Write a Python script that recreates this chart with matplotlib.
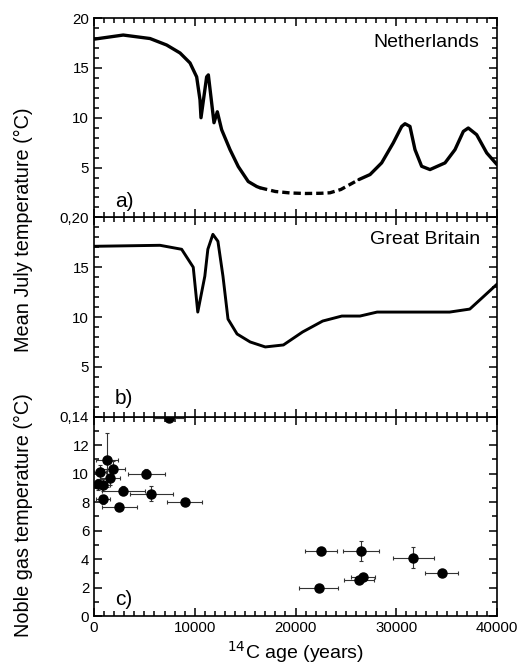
import numpy as np
import matplotlib
matplotlib.use("Agg")
import matplotlib.pyplot as plt
from matplotlib.ticker import MultipleLocator

plt.rcParams['font.family'] = ['Liberation Sans', 'DejaVu Sans']

# a) Netherlands, mean July temperature
nl_age = [0, 100, 2900, 5560, 7210, 8540, 9530, 10190, 10520, 10620, 11180, 11350,
          11910, 12240, 12670, 13500, 14320, 15310, 16150, 16480]
nl_temp = [17.9, 17.9, 18.3, 17.95, 17.3, 16.5, 15.5, 14.1, 11.8, 10.0, 14.1, 14.3,
           9.5, 10.6, 8.8, 6.8, 5.1, 3.6, 3.1, 2.97]
nl_gap_age = [16480, 18000, 19500, 21000, 22500, 23420, 24500, 25400, 26300]
nl_gap_temp = [2.97, 2.6, 2.45, 2.4, 2.42, 2.47, 2.8, 3.3, 3.8]
nl_age2 = [26300, 27400, 28550, 29700, 30540, 30870, 31360, 31860, 32520, 33350,
           34840, 35830, 36660, 37150, 37980, 38980, 40000]
nl_temp2 = [3.8, 4.3, 5.47, 7.47, 9.13, 9.4, 9.13, 6.8, 5.13, 4.8,
            5.47, 6.8, 8.63, 8.97, 8.3, 6.47, 5.3]

# b) Great Britain, mean July temperature
gb_age = [0, 6550, 8700, 9850, 10300, 11000, 11300, 11800, 12300, 12800, 13300,
          14200, 15500, 17000, 18800, 20700, 22700, 24600, 26400, 28100, 35300,
          37300, 38600, 40000]
gb_temp = [17.1, 17.2, 16.8, 15.0, 10.5, 14.1, 16.8, 18.3, 17.6, 14.1, 9.8,
           8.3, 7.5, 7.0, 7.2, 8.5, 9.6, 10.1, 10.1, 10.5, 10.5,
           10.8, 12.0, 13.3]

# c) noble gas temperatures
ng_age = [7450, 1300, 1900, 600, 1600, 400, 900, 5200, 2900, 5700, 9000, 900, 2500,
          22500, 26500, 31700, 34500, 26700, 26300, 22300]
ng_temp = [13.9, 10.95, 10.3, 10.1, 9.7, 9.25, 9.2, 10.0, 8.8, 8.6, 8.0, 8.2, 7.65,
           4.55, 4.55, 4.1, 3.05, 2.75, 2.55, 1.97]
ng_age_err = [1500, 1100, 1200, 600, 1000, 500, 700, 1800, 2150, 2150, 1750, 700, 1750,
              1600, 1750, 2050, 1650, 1200, 1500, 1950]
ng_temp_err = [0.2, 1.9, 0.6, 0.5, 0.5, 0.4, 0.4, 0.3, 0.3, 0.5, 0.2, 0.3, 0.3,
               0.3, 0.7, 0.75, 0.25, 0.2, 0.2, 0.2]

fig = plt.figure(figsize=(5.18, 6.67), dpi=100)
left, width = 94 / 518, 403 / 518
h = 199.3 / 667
bot = 1 - 616 / 667
ax_c = fig.add_axes([left, bot, width, h])
ax_b = fig.add_axes([left, bot + h, width, h], sharex=ax_c)
ax_a = fig.add_axes([left, bot + 2 * h, width, h], sharex=ax_c)

fs = 10.8
for ax in (ax_a, ax_b, ax_c):
    ax.set_xlim(0, 40000)
    ax.xaxis.set_major_locator(MultipleLocator(5000))
    ax.xaxis.set_minor_locator(MultipleLocator(1000))
    ax.tick_params(which='both', direction='in', top=True, right=True, width=1.1)
    ax.tick_params(which='major', length=6)
    ax.tick_params(which='minor', length=3.5)
    ax.tick_params(labelsize=fs)
    for s in ax.spines.values():
        s.set_linewidth(1.2)

ax_a.plot(nl_age, nl_temp, color='black', lw=2.4, solid_joinstyle='round', solid_capstyle='round')
ax_a.plot(nl_gap_age, nl_gap_temp, color='black', lw=2.4, ls=(0, (2.2, 1.2)))
ax_a.plot(nl_age2, nl_temp2, color='black', lw=2.4, solid_joinstyle='round', solid_capstyle='round')
ax_a.set_ylim(0, 20)
ax_a.yaxis.set_minor_locator(MultipleLocator(1))
ax_a.set_yticks([0, 5, 10, 15, 20])
ax_a.set_yticklabels(['0,20', '5', '10', '15', '20'])
ax_a.tick_params(labelbottom=False)
ax_a.text(0.957, 0.88, 'Netherlands', transform=ax_a.transAxes, ha='right', va='center', fontsize=14)
ax_a.text(0.052, 0.05, 'a)', transform=ax_a.transAxes, ha='left', va='baseline', fontsize=15)

ax_b.plot(gb_age, gb_temp, color='black', lw=2.1, solid_joinstyle='round')
ax_b.set_ylim(0, 20)
ax_b.yaxis.set_minor_locator(MultipleLocator(1))
ax_b.set_yticks([0, 5, 10, 15, 20])
ax_b.set_yticklabels(['0,14', '5', '10', '15', ''])
ax_b.tick_params(labelbottom=False)
ax_b.text(0.957, 0.89, 'Great Britain', transform=ax_b.transAxes, ha='right', va='center', fontsize=14)
ax_b.text(0.052, 0.065, 'b)', transform=ax_b.transAxes, ha='left', va='baseline', fontsize=15)

ax_c.errorbar(ng_age, ng_temp, xerr=ng_age_err, yerr=ng_temp_err, fmt='o', color='black',
              ms=6.5, elinewidth=0.8, capsize=1.5, capthick=0.8, ecolor='#333333')
ax_c.set_ylim(0, 14)
ax_c.set_yticks([0, 2, 4, 6, 8, 10, 12, 14])
ax_c.set_yticklabels(['0', '2', '4', '6', '8', '10', '12', ''])
ax_c.yaxis.set_minor_locator(MultipleLocator(1))
ax_c.set_xticks([0, 10000, 20000, 30000, 40000])
ax_c.xaxis.set_minor_locator(MultipleLocator(1000))
ax_c.set_xticklabels(['0', '10000', '20000', '30000', '40000'])
ax_c.text(0.052, 0.055, 'c)', transform=ax_c.transAxes, ha='left', va='baseline', fontsize=15)
ax_c.set_xlabel('$^{14}$C age (years)', fontsize=14, labelpad=3)

fig.text(23 / 518, 1 - 230 / 667, 'Mean July temperature (°C)', rotation=90,
         ha='center', va='center', fontsize=14.3)
fig.text(23 / 518, 1 - 515 / 667, 'Noble gas temperature (°C)', rotation=90,
         ha='center', va='center', fontsize=14.3)

fig.savefig('out.png', dpi=100)
